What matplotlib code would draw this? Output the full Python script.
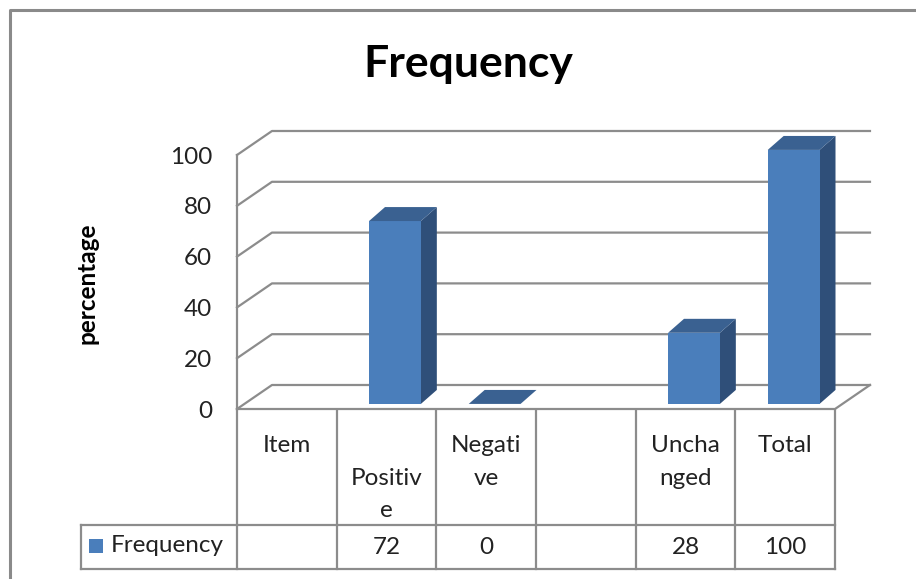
import matplotlib
matplotlib.use("Agg")
import matplotlib.pyplot as plt
from matplotlib.patches import Polygon, Rectangle
from matplotlib.lines import Line2D
from matplotlib.transforms import blended_transform_factory

# ---- data ----
title = "Frequency"
ylabel = "percentage"
series_name = "Frequency"
categories = ["Item", "Positive", "Negative", "", "Unchanged", "Total"]
category_labels = ["Item", "\nPositiv\ne", "Negati\nve", "", "Uncha\nnged", "Total"]
values = [None, 72, 0, None, 28, 100]
value_text = ["", "72", "0", "", "28", "100"]
yticks = [0, 20, 40, 60, 80, 100]

FONT = "Lato"
FS = 17.5
W, H = 916, 579
fig = plt.figure(figsize=(W / 100, H / 100), dpi=100)
fig.patch.set_facecolor("white")

def fx(p):
    return p / W

def fy(p):
    return 1 - p / H

# front plane of the 3-D plot box
ax = fig.add_axes([fx(237), fy(409), fx(835) - fx(237), fy(155) - fy(409)])
ax.set_xlim(0, len(categories))
ax.set_ylim(0, 100)
ax.patch.set_alpha(0)
for s in ["top", "right", "bottom"]:
    ax.spines[s].set_visible(False)
ax.spines["left"].set_color("#8c8c8c")
ax.spines["left"].set_linewidth(1.6)
ax.set_xticks([])
ax.set_yticks(yticks)
ax.set_yticklabels([str(t) for t in yticks], fontfamily=FONT, fontsize=FS, color="#222222")
ax.tick_params(axis="y", length=0, pad=18)

# depth of the box (x in categories, y in value units)
DX, DY = 0.351, 9.45
GRID = "#8c8c8c"
n = len(categories)

# gridlines: left side wall diagonal + back wall line
for t in yticks:
    ax.add_line(Line2D([0, DX, n + DX], [t, t + DY, t + DY], color=GRID, lw=1.6,
                       clip_on=False, zorder=1))
# floor edges
ax.add_line(Line2D([0, n, n + DX], [0, 0, DY], color=GRID, lw=1.6, clip_on=False, zorder=1))

# bars
FRONT, TOP, SIDE = "#4a7ebb", "#3a6191", "#2f4f79"
bw = 0.52
off = 0.085
base = 2.0
bdx, bdy = 0.16, 5.5
for i, v in enumerate(values):
    if v is None:
        continue
    x0 = i + 0.5 + off - bw / 2
    x1 = x0 + bw
    b, t = base, base + v
    if v > 0:
        ax.add_patch(Polygon([(x1, b), (x1 + bdx, b + bdy), (x1 + bdx, t + bdy), (x1, t)],
                             closed=True, fc=SIDE, ec="none", clip_on=False, zorder=3))
        ax.add_patch(Polygon([(x0, b), (x1, b), (x1, t), (x0, t)],
                             closed=True, fc=FRONT, ec="none", clip_on=False, zorder=3))
    ax.add_patch(Polygon([(x0, t), (x1, t), (x1 + bdx, t + bdy), (x0 + bdx, t + bdy)],
                         closed=True, fc=TOP, ec="none", clip_on=False, zorder=3))

# titles
fig.text(fx(468), fy(64), title, fontfamily=FONT, fontweight="bold", fontsize=32,
         ha="center", va="center", color="black")
fig.text(fx(87), fy(283), ylabel, fontfamily=FONT, fontweight="bold", fontsize=17.5,
         rotation=90, ha="center", va="center", color="black")

# data table under the plot
tr = blended_transform_factory(ax.transData, fig.transFigure)
TL = "#8c8c8c"
y_top, y_mid, y_bot = fy(410), fy(525), fy(569)
legend_left = (81 - 237) / ((835 - 237) / n)
for k in range(n + 1):
    fig.add_artist(Line2D([k, k], [y_top, y_bot], transform=tr, color=TL, lw=1.6))
fig.add_artist(Line2D([legend_left, legend_left], [y_mid, y_bot], transform=tr, color=TL, lw=1.6))
fig.add_artist(Line2D([legend_left, n], [y_mid, y_mid], transform=tr, color=TL, lw=1.6))
fig.add_artist(Line2D([legend_left, n], [y_bot, y_bot], transform=tr, color=TL, lw=1.6))

for i, lab in enumerate(category_labels):
    fig.text(i + 0.5, fy(435), lab, transform=tr, fontfamily=FONT, fontsize=FS,
             ha="center", va="top", linespacing=1.68, color="#222222")
for i, s in enumerate(value_text):
    fig.text(i + 0.5, fy(547), s, transform=tr, fontfamily=FONT, fontsize=FS,
             ha="center", va="center", color="#222222")

# legend key inside the first cell
fig.add_artist(Rectangle((fx(89), fy(553)), fx(14), fy(539) - fy(553), transform=fig.transFigure,
                         fc=FRONT, ec="none"))
fig.text(fx(111), fy(546), series_name, fontfamily=FONT, fontsize=FS, ha="left",
         va="center", color="#222222")

# chart area border
fig.add_artist(Line2D([fx(10), fx(10), fx(916)], [fy(579), fy(10), fy(10)],
                      transform=fig.transFigure, color="#8a8a8a", lw=2.2))

fig.savefig("out.png", dpi=100)
